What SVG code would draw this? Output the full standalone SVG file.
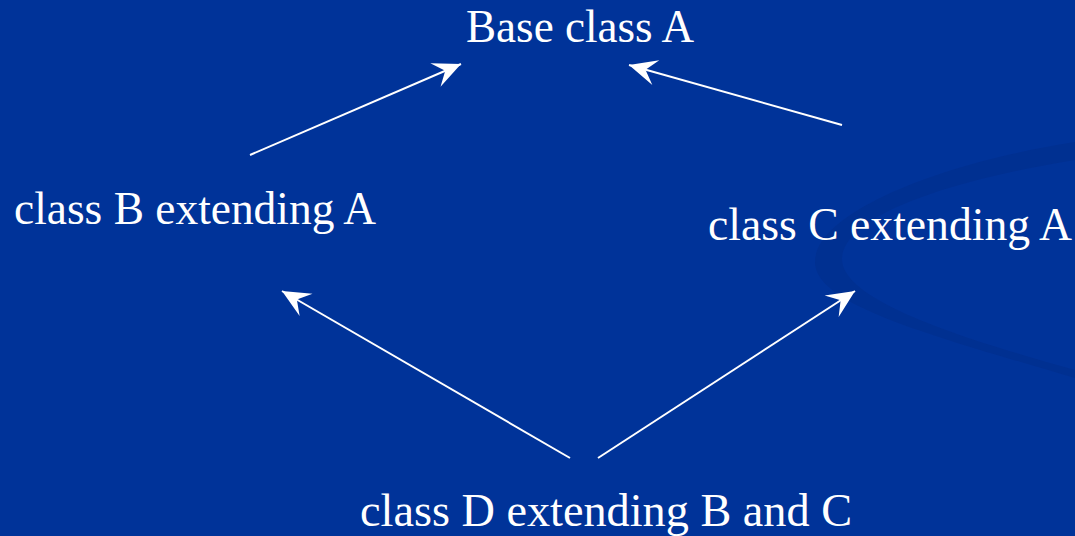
<svg xmlns="http://www.w3.org/2000/svg" width="1075" height="536" viewBox="0 0 1075 536">
<defs>
<style>
.lbl{font-family:"Liberation Serif","Times New Roman",serif;font-size:45.5px;fill:#ffffff;text-anchor:middle}
.conn{stroke:#ffffff;stroke-width:2;fill:none;marker-end:url(#arr)}
</style>
<marker id="arr" markerUnits="userSpaceOnUse" markerWidth="30" markerHeight="30" viewBox="-27 -13 28 26" refX="0" refY="0" orient="auto">
<path d="M0,0 L-26,-12 L-16,0 L-26,12 Z" fill="#ffffff"/>
</marker>
</defs>
<rect width="1075" height="536" fill="#003399"/>
<path d="M1075,142 C930,165 815,215 815,262 C815,305 930,335 1075,378 L1075,370 C960,338 840,300 842,258 C845,215 950,180 1075,160 Z" fill="#002f8e" opacity="0.8"/>
<g id="connectors">
<line class="conn" x1="250" y1="155" x2="461" y2="64"/>
<line class="conn" x1="842" y1="125" x2="629" y2="65"/>
<line class="conn" x1="570" y1="458" x2="282" y2="291"/>
<line class="conn" x1="598" y1="458" x2="855" y2="291"/>
</g>
<g id="nodeA"><text class="lbl" x="580" y="42" textLength="228" lengthAdjust="spacingAndGlyphs">Base class A</text></g>
<g id="nodeB"><text class="lbl" x="195" y="224" textLength="362" lengthAdjust="spacingAndGlyphs">class B extending A</text></g>
<g id="nodeC"><text class="lbl" x="890" y="240" textLength="364" lengthAdjust="spacingAndGlyphs">class C extending A</text></g>
<g id="nodeD"><text class="lbl" x="606" y="526" textLength="492" lengthAdjust="spacingAndGlyphs">class D extending B and C</text></g>
</svg>
